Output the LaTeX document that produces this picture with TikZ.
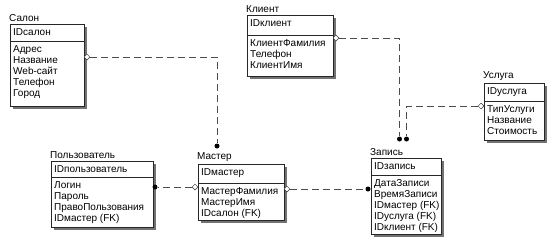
\documentclass[tikz,border=0pt]{standalone}
\usepackage{fontspec}
\setmainfont{Liberation Sans}
\usetikzlibrary{shapes.geometric,shadows}
\begin{document}
\begin{tikzpicture}[x=1pt,y=-1pt,
  entbox/.style={draw=black!85,line width=0.7pt,fill=white,inner sep=0pt,
    drop shadow={shadow xshift=2.5pt,shadow yshift=-2.5pt,fill=black!55,opacity=1}},
  divline/.style={draw=black!85,line width=0.8pt},
  erfont/.style={font=\fontsize{10}{11}\selectfont,text=black,inner sep=0pt},
  titletext/.style={erfont,anchor=south west},
  keytext/.style={erfont,anchor=north west},
  attrtext/.style={erfont,anchor=north west,align=left},
  rel/.style={draw=black!70,line width=0.7pt,dash pattern=on 7pt off 4pt},
  hollowend/.style={diamond,draw=black!80,fill=white,line width=0.5pt,
    minimum width=6pt,minimum height=6pt,inner sep=0pt},
  solidend/.style={circle,fill=black,minimum size=5pt,inner sep=0pt}]
\useasboundingbox (0,0) rectangle (552,244);

% entity box: name, left, top, right, bottom, divider, title, key, attributes
\newcommand\erentity[9]{%
  \node[entbox,minimum width={(#4-#2)*1pt},minimum height={(#5-#3)*1pt}]
    (#1) at ({(#2+#4)/2},{(#3+#5)/2}) {};
  \draw[divline] (#2,#6) -- (#4,#6);
  \node[titletext] (#1-title) at (#2-1,#3-2.5) {#7};
  \node[keytext] (#1-key) at (#2+3,#3+4) {#8};
  \node[attrtext] (#1-attr) at (#2+3,#6+4.5) {#9};
}

\erentity{salon}{10}{24}{84}{106}{41}{Салон}{IDсалон}%
  {Адрес\\Название\\Web-сайт\\Телефон\\Город}
\erentity{klient}{247}{15}{333}{76}{35}{Клиент}{IDклиент}%
  {КлиентФамилия\\Телефон\\КлиентИмя}
\erentity{usluga}{484}{83}{544}{140}{101}{Услуга}{IDуслуга}%
  {ТипУслуги\\Название\\Стоимость}
\erentity{polz}{51}{161}{153}{227}{177}{Пользователь}{IDпользователь}%
  {Логин\\Пароль\\ПравоПользования\\IDмастер (FK)}
\erentity{master}{198}{164}{284}{220}{183}{Мастер}{IDмастер}%
  {МастерФамилия\\МастерИмя\\IDсалон (FK)}
\erentity{zapis}{371}{158}{441}{234}{175}{Запись}{IDзапись}%
  {ДатаЗаписи\\ВремяЗаписи\\IDмастер (FK)\\IDуслуга (FK)\\IDклиент (FK)}

% relationship ends
\node[hollowend] (d1) at (87,57) {};
\node[solidend]  (p1) at (217,146) {};
\node[hollowend] (d2) at (336,38) {};
\node[solidend]  (p2) at (399.5,139) {};
\node[hollowend] (d3) at (481,106) {};
\node[solidend]  (p3) at (406.5,139) {};
\node[hollowend] (d4) at (195,187) {};
\node[solidend]  (p4) at (155,187) {};
\node[hollowend] (d5) at (287,189) {};
\node[solidend]  (p5) at (368,189) {};

% relationships
\draw[rel] (d1.east) -| (p1.north);
\draw[rel] (d2.east) -| (p2.north);
\draw[rel] (d3.west) -| (p3.north);
\draw[rel] (d4.west) -- (p4.east);
\draw[rel] (d5.east) -- (p5.west);
\end{tikzpicture}
\end{document}
